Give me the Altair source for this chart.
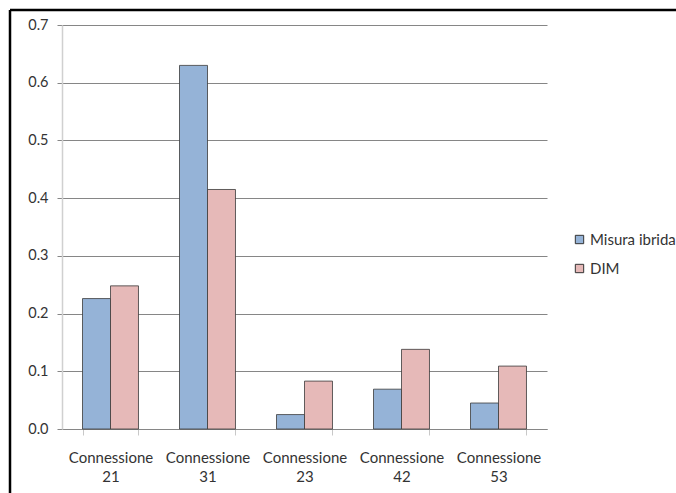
import altair as alt
import pandas as pd

# Connection labels and the two measures compared on each
connections = ["Connessione 21", "Connessione 31", "Connessione 23", "Connessione 42", "Connessione 53"]
misura_ibrida = [0.226, 0.630, 0.025, 0.069, 0.045]
dim = [0.248, 0.415, 0.083, 0.138, 0.109]
series = ["Misura ibrida", "DIM"]
colors = ["#95B3D7", "#E6B9B8"]
y_ticks = [0.0, 0.1, 0.2, 0.3, 0.4, 0.5, 0.6, 0.7]

rows = []
for c, a, b in zip(connections, misura_ibrida, dim):
    rows.append({"conn": c, "serie": series[0], "val": a})
    rows.append({"conn": c, "serie": series[1], "val": b})
df = pd.DataFrame(rows)

FONT = "Lato"
TXT = "#333333"

bars = alt.Chart(df).mark_bar(stroke="#3a3a3a", strokeWidth=0.8).encode(
    x=alt.X(
        "conn:N",
        sort=connections,
        title=None,
        scale=alt.Scale(paddingInner=0.423, paddingOuter=0.2115),
        axis=alt.Axis(
            labelAngle=0,
            labelExpr="split(datum.label, ' ')",
            labelFont=FONT,
            labelFontSize=15,
            labelColor=TXT,
            labelLineHeight=19,
            labelPadding=15,
            tickBand="extent",
            tickColor="#c8c8c8",
            tickSize=6,
            domainColor="#868686",
            grid=False,
        ),
    ),
    xOffset=alt.XOffset("serie:N", sort=series),
    y=alt.Y(
        "val:Q",
        title=None,
        scale=alt.Scale(domain=[0, 0.7], nice=False),
        axis=alt.Axis(
            values=y_ticks,
            format=".1f",
            labelFont=FONT,
            labelFontSize=14.5,
            labelColor=TXT,
            labelPadding=9,
            tickColor="#868686",
            tickSize=5,
            domainColor="#d0d0d0",
            domainWidth=1.5,
            grid=True,
            gridColor="#868686",
            gridWidth=1,
        ),
    ),
    color=alt.Color(
        "serie:N",
        sort=series,
        scale=alt.Scale(domain=series, range=colors),
        legend=alt.Legend(
            title=None,
            orient="none",
            legendX=510,
            legendY=207,
            symbolType="square",
            symbolSize=70,
            symbolStrokeColor="#333333",
            symbolStrokeWidth=1,
            labelFont=FONT,
            labelFontSize=15,
            labelColor=TXT,
            labelOffset=3,
            rowPadding=13,
        ),
    ),
)

# Frame lines along the top and left edges of the figure
top_edge = alt.Chart().mark_rule(color="black", strokeWidth=2.5).encode(
    x=alt.value(-52), x2=alt.value(614), y=alt.value(-15)
)
left_edge = alt.Chart().mark_rule(color="black", strokeWidth=2.5).encode(
    x=alt.value(-52), y=alt.value(-15), y2=alt.value(468)
)

chart = alt.layer(bars, top_edge, left_edge).properties(
    width=485,
    height=404,
    autosize=alt.AutoSizeParams(type="none"),
    padding={"left": 62, "top": 25, "right": 129, "bottom": 64},
    background="white",
).configure_view(stroke=None)

chart.save("out.html", embed_options={"renderer": "svg", "actions": False})
